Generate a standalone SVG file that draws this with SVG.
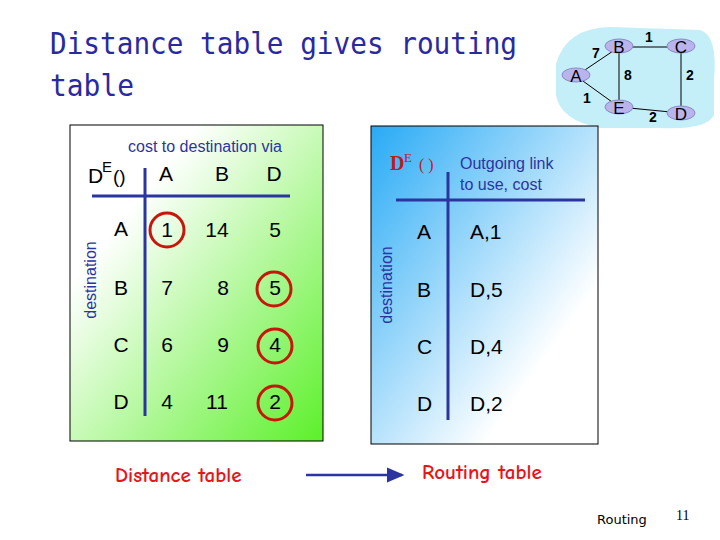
<svg xmlns="http://www.w3.org/2000/svg" width="720" height="540" viewBox="0 0 720 540">
<style>
.t{font-family:"Liberation Sans",Arial,sans-serif;fill:#000}
.b{font-family:"Liberation Sans",Arial,sans-serif;fill:#2b35a0}
.ln{stroke:#2b35a0;stroke-width:3}
.c{fill:none;stroke:#c8160c;stroke-width:3}
.red{font-family:"Comic Neue","DejaVu Sans",sans-serif;font-weight:bold;fill:#e8141c;font-size:21px}
.n ellipse{fill:#b9b5ec;stroke:#8c88c8}
.n text{font-family:"Liberation Sans",Arial,sans-serif;font-size:17px;text-anchor:middle}
</style>
<defs>
<linearGradient id="g" x1="0" y1="0" x2="1" y2="1"><stop offset="0.25" stop-color="#ffffff"/><stop offset="1" stop-color="#5cf02a"/></linearGradient>
<linearGradient id="bl" x1="0" y1="0" x2="1" y2="1"><stop offset="0" stop-color="#28aaf5"/><stop offset="0.75" stop-color="#ffffff"/></linearGradient>
<marker id="ar" markerWidth="8" markerHeight="8" refX="6" refY="4" orient="auto"><path d="M0,1 L7,4 L0,7 Z" fill="#2b35a0"/></marker>
</defs>
<rect width="720" height="540" fill="#fff"/>
<g id="network">
<path d="M556,64 Q566,28 610,27 L700,30 Q718,35 714,80 L714,115 Q707,130 660,128 L600,128 Q560,120 556,95 Z" fill="#c4eef8"/>
<g stroke="#000" stroke-width="1"><line x1="576" y1="76" x2="619" y2="47"/><line x1="576" y1="76" x2="619" y2="107"/><line x1="619" y1="47" x2="681" y2="47"/><line x1="619" y1="47" x2="619" y2="107"/><line x1="619" y1="107" x2="681" y2="113"/><line x1="681" y1="47" x2="681" y2="113"/></g>
<g font-family="Liberation Sans,Arial,sans-serif" font-size="14" font-weight="bold"><text x="592" y="58">7</text><text x="583" y="103">1</text><text x="645" y="42">1</text><text x="624" y="80">8</text><text x="686" y="80">2</text><text x="649" y="122">2</text></g>
<g class="n" id="nA"><ellipse cx="576" cy="75" rx="14" ry="7"/><text x="576" y="82">A</text></g>
<g class="n" id="nB"><ellipse cx="619" cy="46" rx="14" ry="7"/><text x="619" y="53">B</text></g>
<g class="n" id="nC"><ellipse cx="681" cy="46" rx="14" ry="7"/><text x="681" y="53">C</text></g>
<g class="n" id="nE"><ellipse cx="619" cy="107" rx="14" ry="7"/><text x="619" y="114">E</text></g>
<g class="n" id="nD"><ellipse cx="681" cy="113" rx="14" ry="7"/><text x="681" y="120">D</text></g>
</g>
<text x="50" y="54" font-family="DejaVu Sans Mono,monospace" font-size="30" fill="#2a2aa0" textLength="467" lengthAdjust="spacingAndGlyphs">Distance table gives routing</text>
<text x="50" y="96" font-family="DejaVu Sans Mono,monospace" font-size="30" fill="#2a2aa0" textLength="84" lengthAdjust="spacingAndGlyphs">table</text>
<g id="distance-table">
<rect x="70" y="125" width="253" height="316" fill="url(#g)" stroke="#000"/>
<text class="b" x="128" y="152" font-size="16">cost to destination via</text>
<text class="t" x="88" y="183" font-size="21">D</text><text class="t" x="102" y="172" font-size="15">E</text><text class="t" x="113" y="183" font-size="19">()</text>
<line class="ln" x1="145" y1="168" x2="145" y2="416"/><line class="ln" x1="92" y1="196" x2="290" y2="196"/>
<text class="b" transform="translate(96,280) rotate(-90)" font-size="16" text-anchor="middle">destination</text>
<g class="t" font-size="21" text-anchor="middle">
<text x="166" y="181">A</text><text x="222" y="181">B</text><text x="274" y="181">D</text>
<text x="121" y="236">A</text><text x="121" y="295">B</text><text x="121" y="352">C</text><text x="121" y="409">D</text>
<text x="167" y="237">1</text><text x="217" y="237">14</text><text x="275" y="237">5</text>
<text x="167" y="295">7</text><text x="223" y="295">8</text><text x="275" y="295">5</text>
<text x="167" y="352">6</text><text x="223" y="352">9</text><text x="275" y="352">4</text>
<text x="167" y="409">4</text><text x="217" y="409">11</text><text x="275" y="409">2</text>
</g>
<circle class="c" cx="167" cy="230" r="17"/><circle class="c" cx="274" cy="289" r="17"/><circle class="c" cx="275" cy="346" r="17"/><circle class="c" cx="275" cy="403" r="17"/>
</g>
<g id="routing-table">
<rect x="371" y="126" width="227" height="318" fill="url(#bl)" stroke="#000"/>
<text x="390" y="170" font-family="Liberation Serif,serif" font-size="20" font-weight="bold" fill="#c8161c">D</text><text x="404" y="162" font-family="Liberation Serif,serif" font-size="13" fill="#c8161c">E</text><text x="419" y="170" font-family="Liberation Serif,serif" font-size="16" fill="#c8161c">( )</text>
<text class="b" x="460" y="169" font-size="16">Outgoing link</text><text class="b" x="460" y="190" font-size="16">to use, cost</text>
<line class="ln" x1="448" y1="172" x2="448" y2="420"/><line class="ln" x1="396" y1="200" x2="585" y2="200"/>
<text class="b" transform="translate(392,285) rotate(-90)" font-size="16" text-anchor="middle">destination</text>
<g class="t" font-size="21"><text x="417" y="239">A</text><text x="417" y="297">B</text><text x="417" y="354">C</text><text x="417" y="411">D</text>
<text x="470" y="239">A,1</text><text x="470" y="297">D,5</text><text x="470" y="354">D,4</text><text x="470" y="411">D,2</text></g>
</g>
<text class="red" x="115" y="482">Distance table</text>
<g id="connectors"><line x1="306" y1="475" x2="402" y2="475" stroke="#2b35a0" stroke-width="2.5" marker-end="url(#ar)"/></g>
<text class="red" x="422" y="479">Routing table</text>
<text x="597" y="524" font-family="DejaVu Sans,sans-serif" font-size="13">Routing</text>
<text x="676" y="520" font-family="Liberation Serif,serif" font-size="14">11</text>
</svg>
